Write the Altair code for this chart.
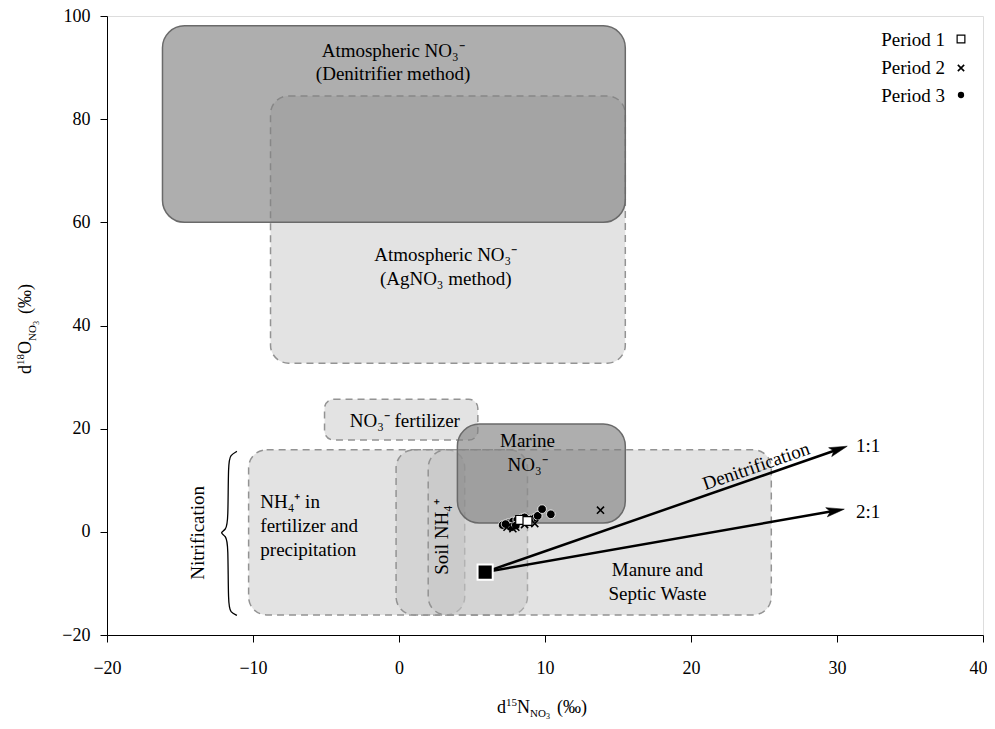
import math
import altair as alt
import pandas as pd

FONT = "Liberation Serif"
W, H = 876, 619
XDOM = [-20, 40]
YDOM = [-20, 100]

# ---- source boxes (data units) ----
box_name = ["AgNO3", "NO3fert", "NH4", "SoilNH4", "Manure", "Denitrifier", "Marine"]
box_x1 = [-8.8, -5.1, -10.3, -0.2, 2.0, -16.2, 4.0]
box_x2 = [15.5, 5.4, 4.5, 8.8, 25.5, 15.5, 15.5]
box_y1 = [32.7, 17.8, -16.1, -16.1, -16.1, 60.0, 1.7]
box_y2 = [84.5, 25.7, 15.9, 15.9, 15.9, 98.1, 20.9]
box_kind = ["light", "small", "light", "light", "light", "dark", "dark"]

# ---- measured samples ----
p3_x = [7.1, 7.5, 7.8, 8.1, 8.4, 9.1, 9.3, 9.5, 9.8, 10.4, 7.6, 8.0, 7.3, 8.6, 8.9]
p3_y = [1.3, 1.7, 2.0, 2.3, 2.6, 2.5, 2.7, 3.1, 4.4, 3.4, 1.0, 1.2, 1.5, 2.8, 2.2]
p2_x = [7.4, 8.0, 8.6, 9.3, 7.8, 13.8]
p2_y = [0.9, 0.9, 1.4, 1.6, 0.6, 4.2]
p1_x = [8.3, 8.8]
p1_y = [2.3, 2.1]

# ---- source point and denitrification vectors ----
src_x, src_y = 5.9, -7.8
arrow_names = ["1:1", "2:1"]
arrow_end_x = [30.7, 30.5]
arrow_end_y = [16.6, 4.4]

# ---- text labels ----
center_text = ["Atmospheric NO₃⁻", "(Denitrifier method)", "Atmospheric NO₃⁻", "(AgNO₃ method)",
               "NO₃⁻ fertilizer", "Marine", "NO₃⁻", "Manure and", "Septic Waste"]
center_x = [-0.4, -0.4, 3.2, 3.2, 0.4, 8.8, 8.8, 17.7, 17.7]
center_y = [92.0, 87.6, 52.5, 47.9, 20.4, 16.4, 11.8, -8.6, -13.2]
left_text = ["NH₄⁺ in", "fertilizer and", "precipitation", "1:1", "2:1"]
left_x = [-9.5, -9.5, -9.5, 31.3, 31.3]
left_y = [4.6, 0.0, -4.7, 15.5, 2.7]
vert_text = ["Nitrification", "Soil NH₄⁺"]
vert_x = [-13.35, 3.35]
vert_y = [-0.2, -1.0]
denit_text = ["Denitrification"]
denit_x = [24.6]
denit_y = [11.6]

# brace beside the nitrification sources
brace_x = [-11.1, -11.55, -11.7, -11.7, -11.85, -12.3, -11.85, -11.7, -11.7, -11.55, -11.1]
brace_y = [15.6, 14.9, 13.5, 1.9, 0.4, -0.2, -0.8, -2.3, -14.2, -15.6, -16.2]

legend_labels = ["Period 1", "Period 2", "Period 3"]

# ---------------------------------------------------------------
xs = alt.Scale(domain=XDOM, nice=False, zero=False)
ys = alt.Scale(domain=YDOM, nice=False, zero=False)
xax = alt.Axis(values=list(range(-20, 41, 10)), title=None, grid=False, tickSize=7,
               labelPadding=17, labelFlush=False, labelFont=FONT, labelFontSize=18,
               labelAlign={"condition": {"test": "datum.value == 40", "value": "right"},
                           "value": "center"},
               labelOffset={"condition": {"test": "datum.value == 40", "value": 4},
                            "value": 0},
               labelColor="black", domainColor="black", tickColor="black")
yax = alt.Axis(values=list(range(-20, 101, 20)), title=None, grid=False, tickSize=7,
               labelPadding=10, labelFlush=False, labelFont=FONT, labelFontSize=18,
               labelColor="black", domainColor="black", tickColor="black")

boxes = pd.DataFrame({"name": box_name, "x1": box_x1, "x2": box_x2, "y1": box_y1,
                      "y2": box_y2, "kind": box_kind})
base_box = alt.Chart(boxes).encode(
    x=alt.X("x1:Q", scale=xs, axis=xax), x2="x2:Q",
    y=alt.Y("y1:Q", scale=ys, axis=yax), y2="y2:Q")
light = base_box.mark_rect(fill="#c2c2c2", fillOpacity=0.45, stroke="#939393",
                           strokeDash=[7, 5], strokeWidth=1.5, cornerRadius=18
                           ).transform_filter(alt.datum.kind == "light")
small = base_box.mark_rect(fill="#c2c2c2", fillOpacity=0.45, stroke="#939393",
                           strokeDash=[7, 5], strokeWidth=1.5, cornerRadius=9
                           ).transform_filter(alt.datum.kind == "small")
dark = base_box.mark_rect(fill="#808080", fillOpacity=0.64, stroke="#6a6a6a",
                          strokeWidth=1.5, cornerRadius=22
                          ).transform_filter(alt.datum.kind == "dark")

# arrows
def px_angle(x0, y0, x1, y1):
    dx = (x1 - x0) / (XDOM[1] - XDOM[0]) * W
    dy = (y1 - y0) / (YDOM[1] - YDOM[0]) * H
    return math.degrees(math.atan2(dy, dx))

arrow_rows = []
head_rows = []
for n, ex, ey in zip(arrow_names, arrow_end_x, arrow_end_y):
    arrow_rows.append({"a": n, "o": 0, "x": src_x, "y": src_y})
    arrow_rows.append({"a": n, "o": 1, "x": ex - 0.03 * (ex - src_x), "y": ey - 0.03 * (ey - src_y)})
    head_rows.append({"a": n, "x": ex, "y": ey, "ang": 90 - px_angle(src_x, src_y, ex, ey)})
arrows = alt.Chart(pd.DataFrame(arrow_rows)).mark_line(color="black", strokeWidth=2.5).encode(
    x=alt.X("x:Q", scale=xs), y=alt.Y("y:Q", scale=ys), detail="a:N", order="o:Q")
heads = alt.Chart(pd.DataFrame(head_rows)).mark_point(
    shape="M0,0 L-0.26,1 L0,0.78 L0.26,1 Z", filled=True, fill="black", stroke="black",
    strokeWidth=0.5, size=1300, opacity=1).encode(
    x=alt.X("x:Q", scale=xs), y=alt.Y("y:Q", scale=ys), angle=alt.Angle("ang:Q", scale=None))

brace = alt.Chart(pd.DataFrame({"x": brace_x, "y": brace_y, "o": list(range(len(brace_x)))})
                  ).mark_line(color="black", strokeWidth=1.3, interpolate="basis").encode(
    x=alt.X("x:Q", scale=xs), y=alt.Y("y:Q", scale=ys), order="o:Q")

# samples
p3 = alt.Chart(pd.DataFrame({"x": p3_x, "y": p3_y})).mark_point(
    shape="circle", filled=True, fill="black", stroke="white", strokeWidth=0.8, size=75,
    opacity=1).encode(x=alt.X("x:Q", scale=xs), y=alt.Y("y:Q", scale=ys))
CROSS = "M-1,-1L1,1M-1,1L1,-1"
p2 = alt.Chart(pd.DataFrame({"x": p2_x, "y": p2_y})).mark_point(
    shape=CROSS, filled=False, stroke="black", strokeWidth=1.6, size=50, opacity=1
    ).encode(x=alt.X("x:Q", scale=xs), y=alt.Y("y:Q", scale=ys))
p1 = alt.Chart(pd.DataFrame({"x": p1_x, "y": p1_y})).mark_point(
    shape="square", filled=True, fill="white", stroke="black", strokeWidth=1.2, size=80,
    opacity=1).encode(x=alt.X("x:Q", scale=xs), y=alt.Y("y:Q", scale=ys))
src = alt.Chart(pd.DataFrame({"x": [src_x], "y": [src_y]})).mark_point(
    shape="square", filled=True, fill="black", stroke="white", strokeWidth=2, size=230,
    opacity=1).encode(x=alt.X("x:Q", scale=xs), y=alt.Y("y:Q", scale=ys))

# labels
def tlayer(texts, xv, yv, **kw):
    return alt.Chart(pd.DataFrame({"t": texts, "x": xv, "y": yv})).mark_text(
        font=FONT, fontSize=19, color="black", **kw).encode(
        x=alt.X("x:Q", scale=xs), y=alt.Y("y:Q", scale=ys), text="t:N")

lab_c = tlayer(center_text, center_x, center_y, align="center", baseline="alphabetic")
lab_l = tlayer(left_text, left_x, left_y, align="left", baseline="alphabetic")
lab_v = tlayer(vert_text, vert_x, vert_y, align="center", baseline="alphabetic", angle=270)
lab_d = tlayer(denit_text, denit_x, denit_y, align="center", baseline="alphabetic",
               angle=360 - px_angle(src_x, src_y, arrow_end_x[0], arrow_end_y[0]))

# pixel-placed pieces (axis titles with sub/superscripts, legend)
one = pd.DataFrame({"k": [0]})
def ptext(txt, x, y, size=18, align="left", angle=0):
    kw = dict(font=FONT, fontSize=size, color="black", align=align, baseline="alphabetic", text=txt)
    if angle:
        kw["angle"] = angle
    return alt.Chart(one).mark_text(**kw).encode(x=alt.value(x), y=alt.value(y))

xt = [ptext("d", 390, 697), ptext("15", 399, 690, 11), ptext("N", 410, 697),
      ptext("NO", 423, 701, 11), ptext("3", 439, 703, 8), ptext("(‰)", 450, 697)]
yt = [ptext("d", -76, 358, angle=270), ptext("18", -83, 349, 11, angle=270),
      ptext("O", -76, 338, angle=270), ptext("NO", -71, 325, 11, angle=270),
      ptext("3", -68, 309, 8, angle=270), ptext("(‰)", -76, 298, angle=270)]
leg = []
for i, lab in enumerate(legend_labels):
    leg.append(ptext(lab, 838, 30 + 28 * i, 19, align="right"))
leg.append(alt.Chart(one).mark_point(shape="square", filled=True, fill="white", stroke="black",
                                     strokeWidth=1.2, size=60, opacity=1
                                     ).encode(x=alt.value(854), y=alt.value(23)))
leg.append(alt.Chart(one).mark_point(shape=CROSS, filled=False, stroke="black", strokeWidth=1.6,
                                     size=40, opacity=1).encode(x=alt.value(854), y=alt.value(52)))
leg.append(alt.Chart(one).mark_point(shape="circle", filled=True, fill="black", strokeWidth=0,
                                     size=40, opacity=1).encode(x=alt.value(854), y=alt.value(79)))

chart = alt.layer(light, small, dark, brace, arrows, heads, p3, p2, p1, src,
                  lab_c, lab_l, lab_v, lab_d, *xt, *yt, *leg).properties(
    width=W, height=H,
    autosize=alt.AutoSizeParams(type="none"),
    padding={"left": 99, "top": 8, "right": 4, "bottom": 86},
).configure_view(stroke="black", strokeWidth=1).configure(background="white")

chart.save("out.html", embed_options={"renderer": "svg", "actions": False})
